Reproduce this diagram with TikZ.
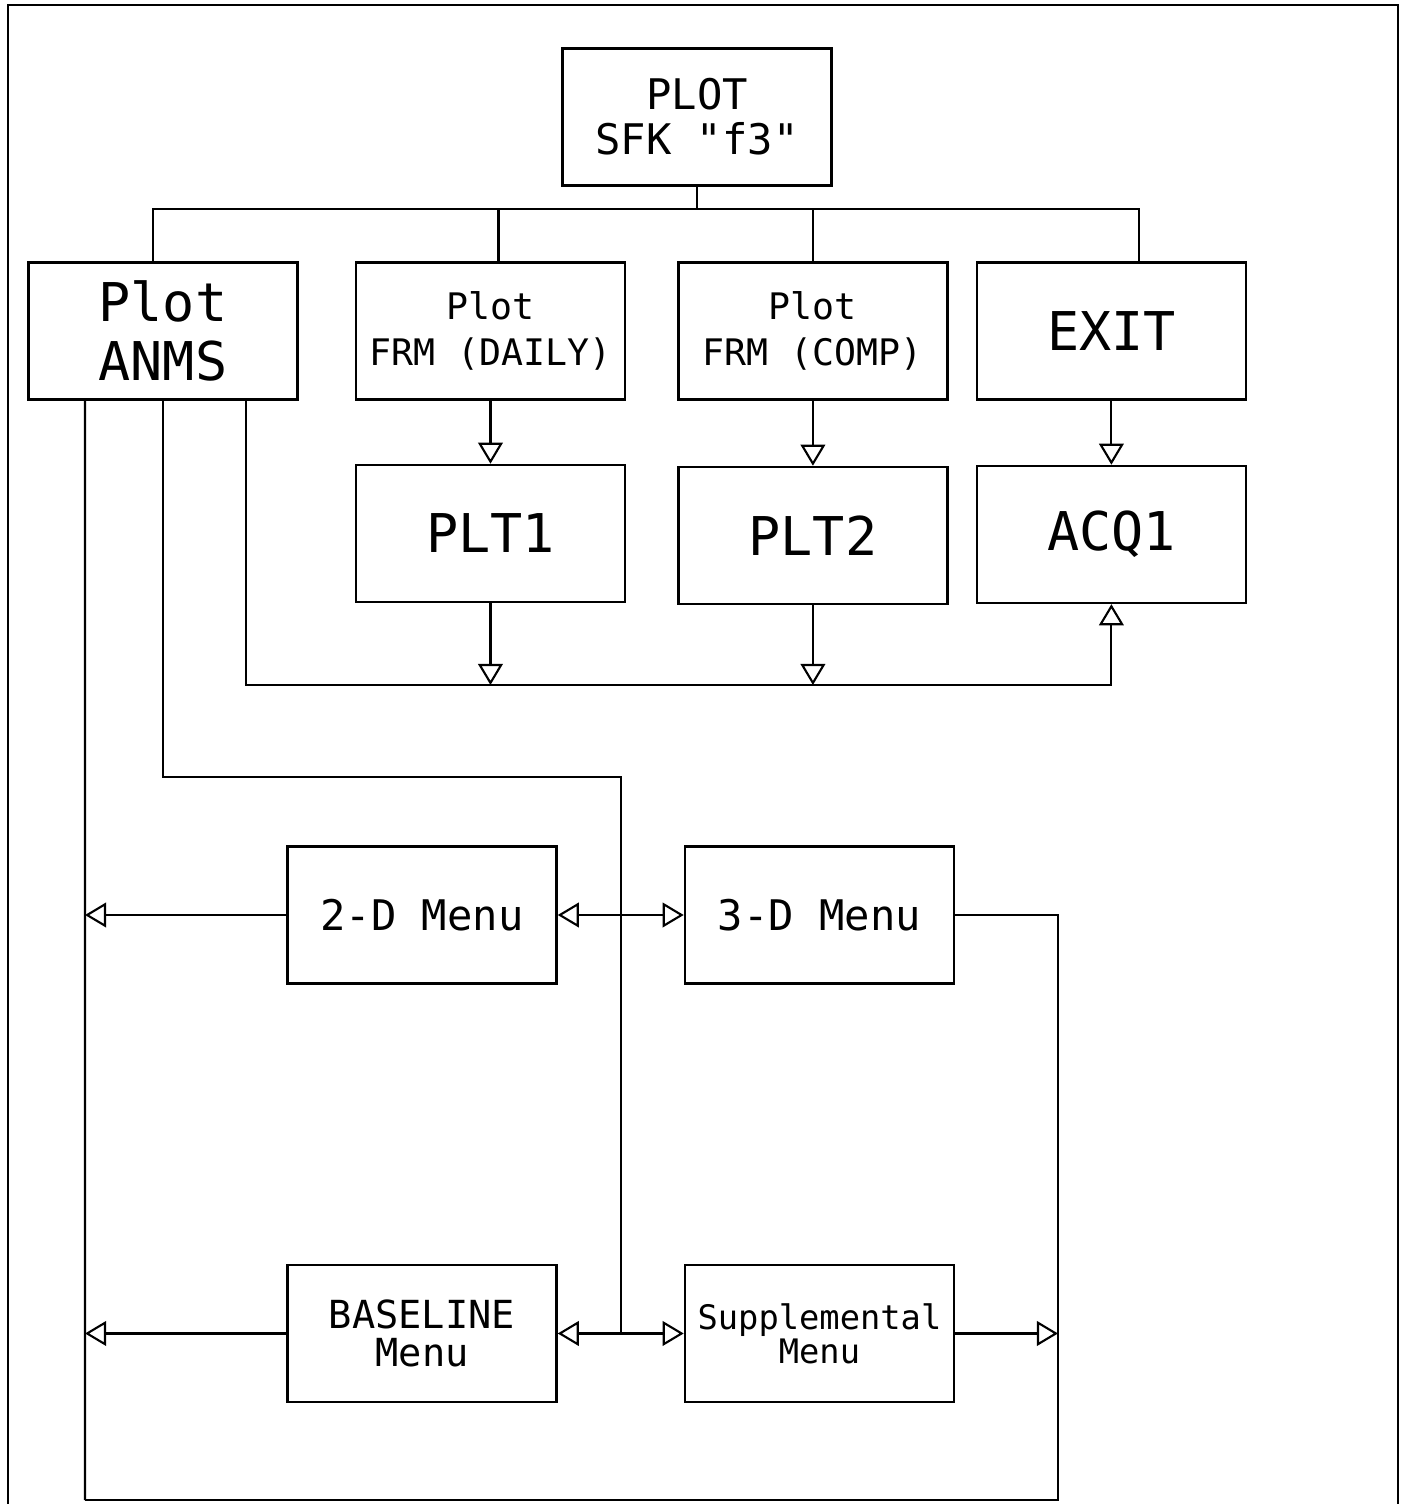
\documentclass[tikz,border=0pt]{standalone}
\usepackage{fontspec}
\newfontfamily\plotfont{DejaVu Sans Mono}
\usepackage{tikz}
\usetikzlibrary{arrows.meta,positioning}

\begin{document}
\begin{tikzpicture}[
  box/.style={draw, line width=0.7pt, minimum width=2.69cm, minimum height=1.37cm, align=center, inner sep=1pt},
  huge/.style={font=\plotfont\fontsize{15.2}{17}\selectfont},
  mid/.style={font=\plotfont\fontsize{12}{12.8}\selectfont},
  frm/.style={font=\plotfont\fontsize{10.4}{13}\selectfont},
  base/.style={font=\plotfont\fontsize{11}{11}\selectfont},
  tiny/.style={font=\plotfont\fontsize{9.6}{9.6}\selectfont},
  line/.style={line width=0.6pt},
  arr/.style={-{Triangle[open, length=6pt, width=7pt]}, line width=0.6pt},
  frame/.style={line width=0.7pt}
]
\useasboundingbox (0,0) rectangle (14.04,-15.04);
\draw[frame] (0.08,-15.1) -- (0.08,-0.05) -- (13.98,-0.05) -- (13.98,-15.1);

\node[box, mid] (plot) at (6.97,-1.17) {PLOT\\SFK "f3"};
\node[box, huge] (anms) at (1.63,-3.31) {Plot\\ANMS};
\node[box, frm, right=0.56cm of anms] (daily) {Plot\\FRM (DAILY)};
\node[box, frm, right=0.51cm of daily] (comp) {Plot\\FRM (COMP)};
\node[box, huge, right=0.27cm of comp] (exit) {EXIT};
\node[box, huge, below=0.63cm of daily] (plt1) {PLT1};
\node[box, huge, below=0.65cm of comp] (plt2) {PLT2};
\node[box, huge, below=0.64cm of exit] (acq1) {ACQ1};
\node[box, mid] (menu2d) at (4.22,-9.15) {2-D Menu};
\node[box, mid, right=1.26cm of menu2d] (menu3d) {3-D Menu};
\node[box, base, below=2.79cm of menu2d] (baseline) {BASELINE\\Menu};
\node[box, tiny, right=1.26cm of baseline] (suppl) {Supplemental\\Menu};

\coordinate (bus) at (6.97,-2.09);
\coordinate (ret) at (0,-6.85);
\coordinate (turn) at (6.21,-7.77);
\coordinate (ll) at (0.85,-15.0);
\coordinate (rr) at (10.58,-15.0);
\path (menu2d.east) -- (menu3d.west) coordinate[midway] (mid1);
\path (baseline.east) -- (suppl.west) coordinate[midway] (mid2);

\draw[line] (plot.south) -- (bus);
\draw[line] ([xshift=-1mm]anms.north) |- ([xshift=2.8mm]exit.north |- bus) -- ([xshift=2.8mm]exit.north);
\draw[line] ([xshift=0.8mm]daily.north) -- ([xshift=0.8mm]daily.north |- bus);
\draw[line] (comp.north) -- (comp.north |- bus);

\draw[arr] (daily.south) -- (plt1.north);
\draw[arr] (comp.south) -- (plt2.north);
\draw[arr] (exit.south) -- (acq1.north);

\draw[arr] (plt1.south) -- (plt1.south |- ret);
\draw[arr] (plt2.south) -- (plt2.south |- ret);
\draw[arr] ([xshift=8.3mm]anms.south) |- (acq1.south |- ret) -- (acq1.south);

\draw[line] (anms.south) |- (turn) -- (turn |- mid2);
\draw[arr] (mid1) -- (menu2d.east);
\draw[arr] (mid1) -- (menu3d.west);
\draw[arr] (mid2) -- (baseline.east);
\draw[arr] (mid2) -- (suppl.west);

\draw[line] ([xshift=-7.8mm]anms.south) -- (ll);
\draw[line] (menu3d.east) -| (rr) -- (ll);
\draw[arr] (menu2d.west) -- (menu2d.west -| ll);
\draw[arr] (baseline.west) -- (baseline.west -| ll);
\draw[arr] (suppl.east) -- (suppl.east -| rr);
\end{tikzpicture}
\end{document}
